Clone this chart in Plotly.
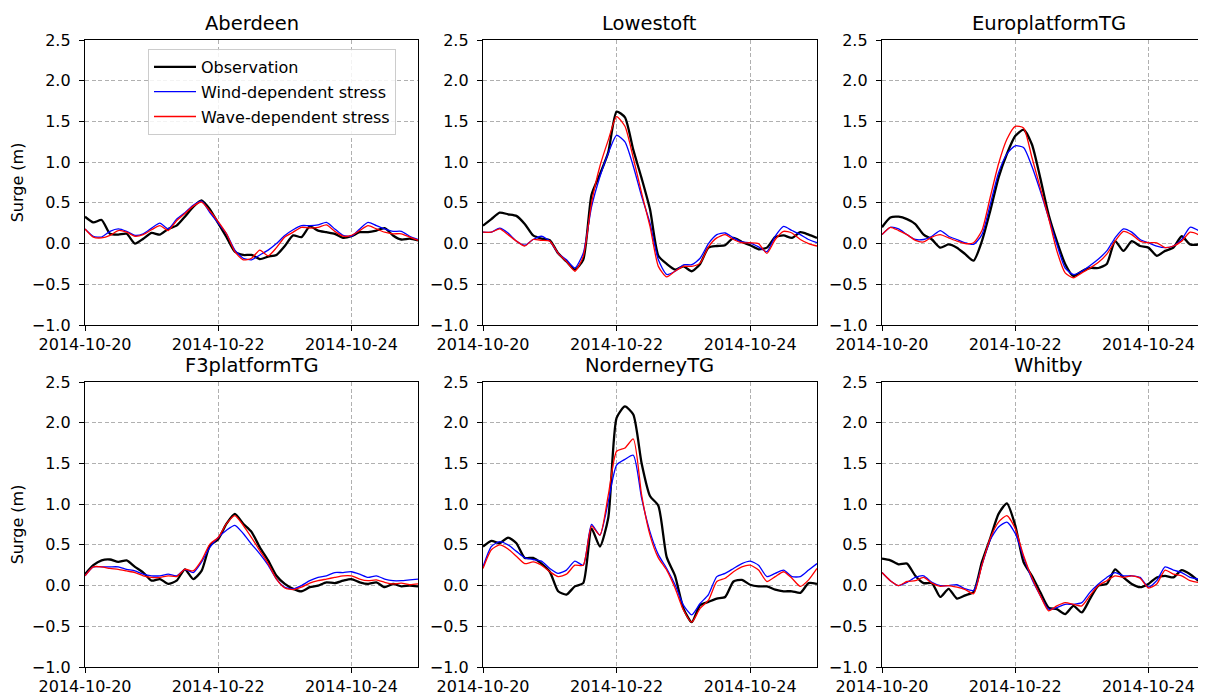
import plotly.graph_objects as go
import pandas as pd

# ---------------- data ----------------
times = pd.date_range("2014-10-20 00:00", periods=41, freq="3h")
stations = ["Aberdeen", "Lowestoft", "EuroplatformTG", "F3platformTG", "NorderneyTG", "Whitby"]
series_names = ["Observation", "Wind-dependent stress", "Wave-dependent stress"]
x_tick_vals = ["2014-10-20", "2014-10-22", "2014-10-24"]
x_tick_labels = ["2014-10-20", "2014-10-22", "2014-10-24"]
y_tick_vals = [-1.0, -0.5, 0.0, 0.5, 1.0, 1.5, 2.0, 2.5]
y_tick_labels = ["\u22121.0", "\u22120.5", "0.0", "0.5", "1.0", "1.5", "2.0", "2.5"]

aberdeen_obs = [0.33, 0.26, 0.29, 0.12, 0.11, 0.12, 0.00, 0.06, 0.13, 0.11, 0.18, 0.22, 0.33, 0.45,
                0.53, 0.42, 0.25, 0.08, -0.10, -0.14, -0.14, -0.19, -0.16, -0.14, -0.03, 0.10, 0.08,
                0.21, 0.16, 0.14, 0.12, 0.07, 0.09, 0.14, 0.14, 0.16, 0.19, 0.10, 0.05, 0.06, 0.04]
aberdeen_wind = [0.18, 0.09, 0.08, 0.15, 0.18, 0.15, 0.10, 0.12, 0.19, 0.25, 0.18, 0.30, 0.38, 0.47,
                 0.52, 0.38, 0.25, 0.12, -0.08, -0.18, -0.20, -0.14, -0.08, 0.00, 0.10, 0.17, 0.22,
                 0.22, 0.23, 0.26, 0.18, 0.10, 0.09, 0.18, 0.26, 0.22, 0.18, 0.15, 0.15, 0.09, 0.05]
aberdeen_wave = [0.18, 0.08, 0.07, 0.10, 0.16, 0.14, 0.09, 0.11, 0.17, 0.22, 0.16, 0.28, 0.37, 0.46,
                 0.51, 0.40, 0.27, 0.12, -0.10, -0.20, -0.18, -0.08, -0.15, -0.05, 0.08, 0.14, 0.20,
                 0.19, 0.20, 0.23, 0.15, 0.09, 0.10, 0.16, 0.22, 0.18, 0.14, 0.12, 0.12, 0.08, 0.04]

lowestoft_obs = [0.22, 0.30, 0.38, 0.36, 0.34, 0.24, 0.10, 0.06, 0.04, -0.12, -0.22, -0.32, -0.20, 0.60,
                 0.85, 1.12, 1.62, 1.55, 1.15, 0.80, 0.42, -0.15, -0.25, -0.32, -0.28, -0.34, -0.25,
                 -0.05, -0.03, -0.02, 0.07, 0.02, -0.02, -0.07, -0.05, 0.08, 0.10, 0.07, 0.14, 0.11, 0.07]
lowestoft_wind = [0.14, 0.14, 0.19, 0.13, 0.03, -0.02, 0.05, 0.09, 0.03, -0.12, -0.20, -0.30, -0.12, 0.45,
                  0.82, 1.11, 1.33, 1.25, 0.95, 0.58, 0.25, -0.20, -0.38, -0.34, -0.26, -0.26, -0.18,
                  0.00, 0.11, 0.13, 0.07, 0.02, 0.01, -0.04, -0.10, 0.09, 0.21, 0.16, 0.11, 0.05, 0.01]
lowestoft_wave = [0.14, 0.14, 0.18, 0.11, 0.03, -0.03, 0.05, 0.04, 0.03, -0.12, -0.22, -0.34, -0.16, 0.50,
                  0.95, 1.27, 1.56, 1.44, 1.05, 0.62, 0.21, -0.28, -0.41, -0.34, -0.28, -0.28, -0.24,
                  -0.04, 0.07, 0.11, 0.05, 0.01, 0.01, 0.00, -0.12, 0.05, 0.15, 0.13, 0.05, 0.00, -0.03]

europlatform_obs = [0.20, 0.32, 0.33, 0.30, 0.24, 0.11, 0.05, -0.05, -0.01, -0.05, -0.13, -0.21, 0.03, 0.40,
                    0.81, 1.10, 1.32, 1.40, 1.22, 0.81, 0.36, 0.03, -0.25, -0.40, -0.34, -0.30, -0.30,
                    -0.25, 0.03, -0.09, 0.03, -0.03, -0.05, -0.15, -0.09, -0.05, 0.09, -0.01, -0.01, 0.07, 0.05]
europlatform_wind = [0.11, 0.20, 0.18, 0.11, 0.05, 0.05, 0.09, 0.16, 0.09, 0.05, 0.01, -0.01, 0.11, 0.48,
                     0.87, 1.10, 1.20, 1.18, 0.95, 0.65, 0.32, -0.01, -0.30, -0.38, -0.34, -0.27, -0.19,
                     -0.09, 0.07, 0.18, 0.14, 0.05, 0.01, -0.03, -0.05, -0.03, 0.05, 0.20, 0.16, 0.05, 0.02]
europlatform_wave = [0.11, 0.20, 0.16, 0.11, 0.04, 0.02, 0.08, 0.11, 0.07, 0.03, 0.00, 0.01, 0.16, 0.57,
                     0.98, 1.28, 1.44, 1.42, 1.06, 0.69, 0.32, -0.09, -0.36, -0.42, -0.36, -0.30, -0.23,
                     -0.13, 0.03, 0.15, 0.11, 0.03, 0.01, 0.01, -0.05, -0.03, 0.03, 0.14, 0.11, 0.04, 0.01]

f3platform_obs = [0.14, 0.25, 0.31, 0.32, 0.29, 0.31, 0.23, 0.16, 0.06, 0.08, 0.02, 0.06, 0.20, 0.08,
                  0.18, 0.49, 0.57, 0.76, 0.88, 0.76, 0.66, 0.47, 0.31, 0.12, 0.02, -0.04, -0.07,
                  -0.02, 0.00, 0.04, 0.03, 0.06, 0.08, 0.04, 0.02, 0.04, -0.02, 0.02, -0.01, 0.00, -0.01]
f3platform_wind = [0.12, 0.23, 0.23, 0.23, 0.23, 0.20, 0.18, 0.14, 0.12, 0.12, 0.14, 0.12, 0.20, 0.16,
                   0.29, 0.47, 0.59, 0.68, 0.74, 0.64, 0.51, 0.39, 0.25, 0.08, -0.02, -0.04, 0.00,
                   0.06, 0.10, 0.12, 0.16, 0.16, 0.17, 0.14, 0.10, 0.12, 0.08, 0.06, 0.06, 0.07, 0.08]
f3platform_wave = [0.12, 0.23, 0.23, 0.21, 0.20, 0.18, 0.16, 0.12, 0.10, 0.10, 0.12, 0.11, 0.20, 0.18,
                   0.31, 0.51, 0.59, 0.76, 0.86, 0.74, 0.59, 0.43, 0.27, 0.08, -0.03, -0.05, -0.02,
                   0.03, 0.06, 0.08, 0.10, 0.12, 0.12, 0.08, 0.06, 0.07, 0.04, 0.02, 0.03, 0.01, 0.02]

norderney_obs = [0.48, 0.55, 0.52, 0.59, 0.52, 0.34, 0.34, 0.27, 0.17, -0.07, -0.11, -0.01, 0.03, 0.70,
                 0.48, 0.83, 2.06, 2.20, 2.10, 1.50, 1.10, 0.98, 0.35, 0.12, -0.28, -0.45, -0.24,
                 -0.20, -0.16, -0.14, 0.05, 0.07, 0.01, -0.01, -0.01, -0.05, -0.07, -0.07, -0.09, 0.03, 0.02]
norderney_wind = [0.23, 0.48, 0.54, 0.50, 0.42, 0.34, 0.32, 0.30, 0.21, 0.15, 0.19, 0.30, 0.25, 0.75,
                  0.62, 1.03, 1.48, 1.55, 1.60, 1.07, 0.66, 0.38, 0.21, 0.01, -0.24, -0.36, -0.22,
                  -0.11, 0.11, 0.15, 0.21, 0.27, 0.30, 0.25, 0.11, 0.15, 0.19, 0.11, 0.11, 0.19, 0.27]
norderney_wave = [0.21, 0.44, 0.50, 0.45, 0.36, 0.27, 0.29, 0.25, 0.17, 0.11, 0.14, 0.25, 0.25, 0.73,
                  0.62, 1.11, 1.65, 1.69, 1.80, 1.11, 0.62, 0.34, 0.19, -0.03, -0.30, -0.45, -0.28,
                  -0.18, 0.05, 0.09, 0.17, 0.23, 0.25, 0.19, 0.05, 0.11, 0.17, 0.09, -0.01, 0.07, 0.21]

whitby_obs = [0.33, 0.31, 0.26, 0.27, 0.12, 0.03, 0.03, -0.14, -0.04, -0.16, -0.12, -0.08, 0.29, 0.58,
              0.88, 1.01, 0.74, 0.29, 0.12, -0.08, -0.27, -0.29, -0.35, -0.25, -0.33, -0.16, 0.00,
              0.02, 0.20, 0.10, 0.02, -0.02, 0.02, 0.10, 0.12, 0.10, 0.19, 0.14, 0.06, -0.01, -0.03]
whitby_wind = [0.16, 0.06, 0.00, 0.04, 0.10, 0.12, 0.04, 0.00, 0.00, 0.01, -0.04, -0.06, 0.25, 0.56,
               0.72, 0.78, 0.64, 0.35, 0.08, -0.12, -0.29, -0.27, -0.23, -0.23, -0.21, -0.08, 0.02,
               0.10, 0.16, 0.12, 0.12, 0.10, -0.02, 0.06, 0.23, 0.19, 0.16, 0.10, 0.08, 0.07, 0.07]
whitby_wave = [0.16, 0.06, 0.00, 0.05, 0.06, 0.10, 0.03, -0.01, 0.00, -0.02, -0.05, -0.10, 0.25, 0.58,
               0.78, 0.86, 0.70, 0.37, 0.10, -0.12, -0.31, -0.25, -0.21, -0.23, -0.25, -0.12, 0.00,
               0.06, 0.12, 0.10, 0.12, 0.09, -0.03, 0.02, 0.19, 0.14, 0.12, 0.06, 0.04, 0.05, 0.05]

panel_data = [
    (aberdeen_obs, aberdeen_wind, aberdeen_wave),
    (lowestoft_obs, lowestoft_wind, lowestoft_wave),
    (europlatform_obs, europlatform_wind, europlatform_wave),
    (f3platform_obs, f3platform_wind, f3platform_wave),
    (norderney_obs, norderney_wind, norderney_wave),
    (whitby_obs, whitby_wind, whitby_wave),
]

# ---------------- styling / layout ----------------
# page body has an 8px margin, so the figure is sized to fill the remaining viewport
W, H = 1198, 684
FONT = "DejaVu Sans"
colors = ["black", "#0000ff", "#ff0000"]
widths = [2.3, 1.3, 1.3]
col_px = [(77, 410), (475, 809), (874, 1198)]
row_px = [(32, 317), (374, 659)]
x_ranges = [["2014-10-20 00:00", "2014-10-25 00:00"],
            ["2014-10-20 00:00", "2014-10-25 00:00"],
            ["2014-10-20 00:00", "2014-10-24 20:45"]]

fig = go.Figure()
layout = dict(
    width=W, height=H,
    margin=dict(l=0, r=0, t=0, b=0, autoexpand=False),
    paper_bgcolor="white", plot_bgcolor="white",
    font=dict(family=FONT, size=16, color="black"),
    showlegend=True,
    legend=dict(x=140 / W, y=1 - 41 / H, xanchor="left", yanchor="top",
                bgcolor="rgba(255,255,255,0.85)", bordercolor="#cccccc", borderwidth=1,
                font=dict(family=FONT, size=16, color="black"), tracegroupgap=1,
                itemwidth=42),
    annotations=[],
)

for k, name in enumerate(stations):
    r, c = divmod(k, 3)
    idx = "" if k == 0 else str(k + 1)
    x0, x1 = col_px[c]
    y0, y1 = row_px[r]
    xdom = [x0 / W, x1 / W]
    ydom = [1 - y1 / H, 1 - y0 / H]
    for s in range(3):
        fig.add_trace(go.Scatter(
            x=times, y=panel_data[k][s], mode="lines", name=series_names[s],
            line=dict(color=colors[s], width=widths[s], shape="spline", smoothing=0.6),
            legendgroup=series_names[s], showlegend=(k == 0),
            xaxis="x" + idx, yaxis="y" + idx))
    layout["xaxis" + idx] = dict(
        domain=xdom, anchor="y" + idx, type="date", range=x_ranges[c], automargin=False,
        tickmode="array", tickvals=x_tick_vals, ticktext=x_tick_labels,
        showline=True, linecolor="black", linewidth=1.3, mirror=True,
        ticks="outside", ticklen=5, tickwidth=1.3, tickcolor="black",
        showgrid=True, gridcolor="#b0b0b0", gridwidth=1, griddash="4px,2.5px",
        zeroline=False, tickfont=dict(family=FONT, size=16, color="black"))
    layout["yaxis" + idx] = dict(
        domain=ydom, anchor="x" + idx, range=[-1.0, 2.5], automargin=False,
        tickmode="array", tickvals=y_tick_vals, ticktext=y_tick_labels,
        showline=True, linecolor="black", linewidth=1.3, mirror=(c != 2),
        ticks="outside", ticklen=5, tickwidth=1.3, tickcolor="black",
        showgrid=True, gridcolor="#b0b0b0", gridwidth=1, griddash="4px,2.5px",
        zeroline=False, tickfont=dict(family=FONT, size=16, color="black"),
        ticklabelstandoff=5)
    if c == 0:
        layout["yaxis" + idx]["title"] = dict(text="Surge (m)", standoff=9,
                                              font=dict(family=FONT, size=16, color="black"))
    cx = (x0 + x0 + 333) / 2 / W
    layout["annotations"].append(dict(
        text=name, x=cx, y=ydom[1], xref="paper", yref="paper",
        xanchor="center", yanchor="bottom", yshift=3, showarrow=False,
        font=dict(family=FONT, size=19.5, color="black")))

fig.update_layout(**layout)
fig.write_html("out.html")
